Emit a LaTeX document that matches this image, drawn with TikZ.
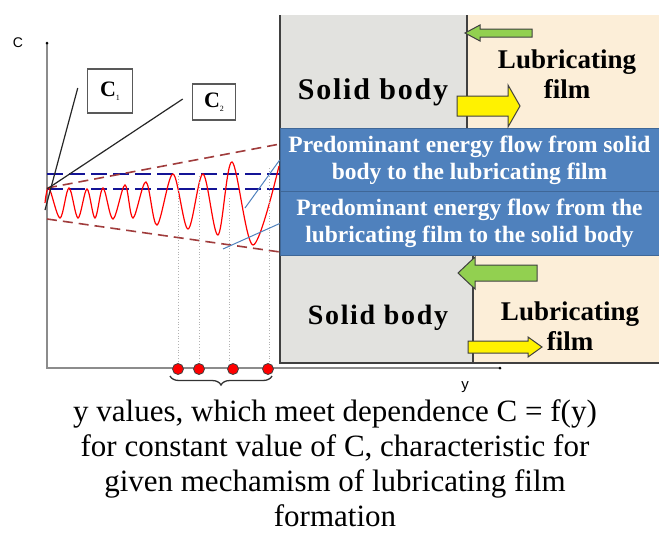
\documentclass[tikz,border=0pt]{standalone}
\usepackage{fontspec}
\setmainfont{Liberation Serif}
\setsansfont{Liberation Sans}
\newfontfamily\spacedserif[LetterSpace=6]{Liberation Serif}
\usetikzlibrary{decorations.pathreplacing}

\definecolor{bodygrey}{RGB}{226,226,223}
\definecolor{filmbeige}{RGB}{252,238,216}
\definecolor{bandblue}{RGB}{79,129,189}
\definecolor{arrowgreen}{RGB}{146,208,80}
\definecolor{envred}{RGB}{160,60,60}
\definecolor{levelnavy}{RGB}{20,20,150}

\begin{document}
\begin{tikzpicture}[x=1pt, y=-1pt,
  axis/.style={draw=black!45, line width=1.3pt},
  level/.style={levelnavy, line width=1.6pt, dash pattern=on 16pt off 6pt},
  envelope/.style={envred, line width=1.6pt, dash pattern=on 10pt off 6pt},
  wave/.style={red, line width=1.2pt},
  pointer/.style={black!85, line width=1.2pt},
  hint/.style={bandblue, line width=1pt},
  drop/.style={black!30, dotted, line width=0.8pt},
  root/.style={circle, fill=red, draw=black!75, line width=0.8pt,
               minimum size=11pt, inner sep=0pt},
  tag/.style={draw=black!65, line width=1.5pt, fill=white, inner sep=0pt,
              font=\bfseries\fontsize{22}{24}\selectfont},
  band/.style={fill=bandblue, draw=bandblue!80!black, line width=0.6pt,
               minimum width=379pt, minimum height=63.5pt, inner sep=0pt,
               align=center, text=white,
               font=\bfseries\fontsize{23.5}{27}\selectfont},
  material/.style={font=\spacedserif\bfseries\fontsize{30}{32}\selectfont},
  film/.style={align=center, font=\bfseries\fontsize{27}{30}\selectfont},
  flux/.style={draw=black!75, line width=1pt, line join=miter},
  note/.style={align=center, font=\fontsize{31}{35}\selectfont}
]
\useasboundingbox (0,0) rectangle (659,536);

% regions
\fill[filmbeige] (467,15) rectangle (659,363);
\fill[bodygrey] (280,15) rectangle (467,128);
\fill[bodygrey] (280,255) rectangle (473,363);
\draw[black!75, line width=1.5pt] (280,15) -- (280,363) -- (659,363);
\draw[black!75, line width=1.5pt] (467,15) -- (467,128);
\draw[black!75, line width=1.5pt] (473,255) -- (473,363);

% axes
\coordinate (ytop) at (47,43);
\coordinate (origin) at (47,368);
\coordinate (xend) at (500,368);
\draw[axis] (ytop) -- (origin) -- (xend);
\fill (ytop) circle (1.5pt);
\fill (xend) circle (1.5pt);
\node[font=\sffamily\fontsize{14}{14}\selectfont] (clabel) at (18,43) {C};
\node[font=\sffamily\fontsize{15}{15}\selectfont] (ylabel) at (465,387) {y};

% levels and envelopes
\draw[level] (47,174) -- (280,174);
\draw[level] (47,189) -- (280,189);
\draw[envelope] (47,188) -- (280,144);
\draw[envelope] (47,219) -- (280,252);

% concentration wave
\draw[wave] plot[smooth, tension=0.55] coordinates {
  (45,203) (49,188) (60,218) (69,188) (78,218) (87,189) (95,218)
  (103,188) (113,219) (125,185) (133,218) (146,182) (157,225)
  (173,174) (188,229) (203,174) (218,235) (232,162) (253,245)
  (279,166)};

% roots on the y axis
\node[root] (dot1) at (178,369) {};
\node[root] (dot2) at (199,369) {};
\node[root] (dot3) at (233,369) {};
\node[root] (dot4) at (268,369) {};
\coordinate (w1) at (178,176);
\coordinate (w2) at (199,176);
\coordinate (w3) at (229,198);
\coordinate (w4) at (269,168);
\foreach \i in {1,...,4}
  \draw[drop] (w\i) -- (w\i |- dot\i.north);
\draw[black!80, line width=1.3pt,
      decorate, decoration={brace, mirror, amplitude=9pt}]
  (170,376) -- (272,376);

% C tags
\node[tag, minimum width=45pt, minimum height=44pt] (c1) at (110,91)
  {C\raisebox{-4pt}{\mdseries\fontsize{8}{8}\selectfont 1}};
\node[tag, minimum width=43pt, minimum height=36pt] (c2) at (214,102)
  {C\raisebox{-4pt}{\mdseries\fontsize{8}{8}\selectfont 2}};
\coordinate (c1end) at (45,210);
\coordinate (c2end) at (47,189);
\draw[pointer] (c1end) -- ([xshift=-9pt, yshift=3pt]c1.west);
\draw[pointer] (c2end) -- ([xshift=-9pt, yshift=3pt]c2.west);

% energy flow bands
\node[band] (band1) at (469.5,160)
  {Predominant energy flow from solid\\body to the lubricating film};
\node[band] (band2) at (469.5,223.5)
  {Predominant energy flow from the\\lubricating film to the solid body};
\coordinate (h1) at (245,208);
\coordinate (h2) at (223,249);
\draw[hint] (h1) -- (band1.west);
\draw[hint] (h2) -- (band2.west);

% materials
\node[material] (solidtop) at (373,92) {Solid body};
\node[material, font=\spacedserif\bfseries\fontsize{28}{30}\selectfont]
  (solidbottom) at (378,318) {Solid body};
\node[film] (filmtop) at (567,74) {Lubricating\\film};
\node[film] (filmbottom) at (570,326) {Lubricating\\film};

% block arrows
\filldraw[flux, fill=arrowgreen] (532,29) -- (480,29) -- (480,25) -- (465,33)
  -- (480,41) -- (480,37) -- (532,37) -- cycle;
\filldraw[flux, fill=yellow] (457,96) -- (508,96) -- (508,85) -- (520,106)
  -- (508,127) -- (508,116) -- (457,116) -- cycle;
\filldraw[flux, fill=arrowgreen] (537,265) -- (475,265) -- (475,257) -- (458,273)
  -- (475,289) -- (475,281) -- (537,281) -- cycle;
\filldraw[flux, fill=yellow] (468,341) -- (528,341) -- (528,337) -- (542,347)
  -- (528,357) -- (528,353) -- (468,353) -- cycle;

% caption
\node[note] (caption) at (335,463)
  {y values, which meet dependence C = f(y)\\
   for constant value of C, characteristic for\\
   given mechamism of lubricating film\\
   formation};
\end{tikzpicture}
\end{document}
